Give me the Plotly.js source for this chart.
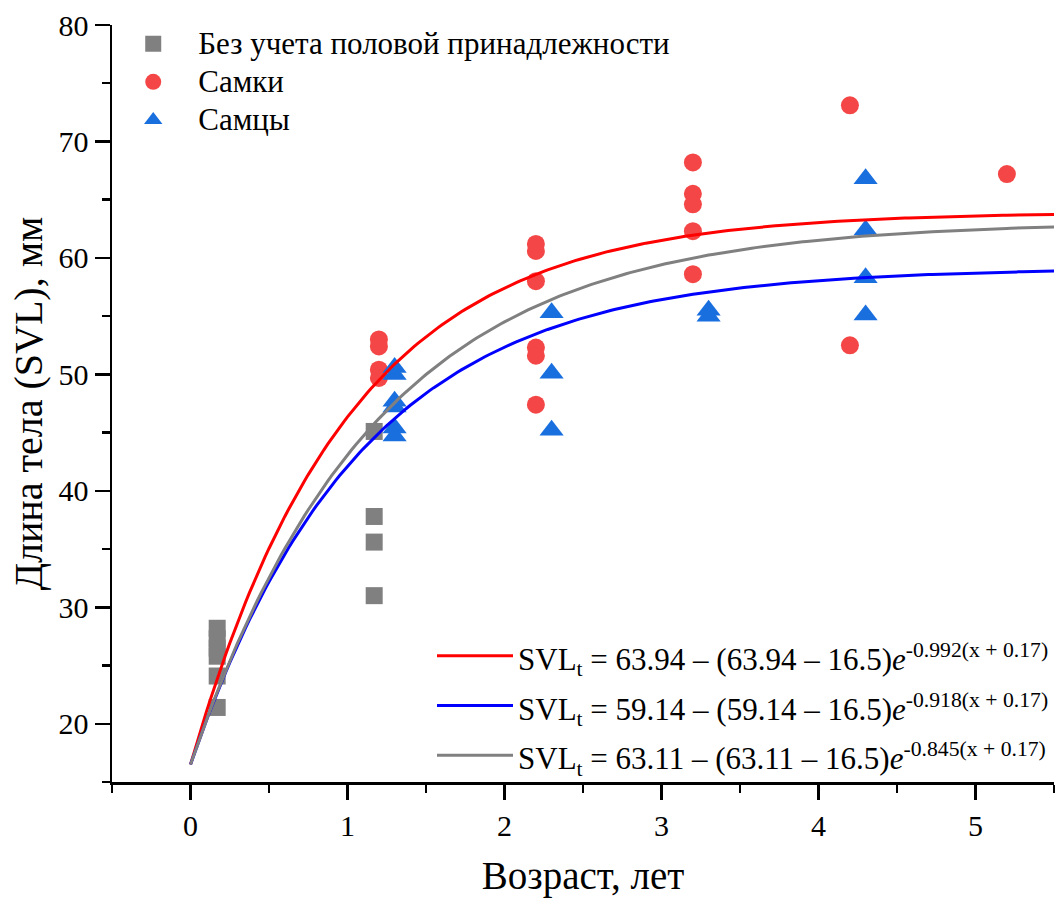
<!DOCTYPE html>
<html>
<head>
<meta charset="utf-8">
<script src="https://cdn.plot.ly/plotly-3.0.1.min.js"></script>
<style>html,body{margin:0;padding:0;background:#fff;}#chart{width:1058px;height:898px;}</style>
</head>
<body>
<div id="chart"></div>
<script>
// ---- Data ----
const seriesNames = ["Без учета половой принадлежности", "Самки", "Самцы"];

const unsexedAge = [0.17, 0.17, 0.17, 0.17, 0.17, 0.17, 1.17, 1.17, 1.17, 1.17];
const unsexedSVL = [28.2, 27.3, 26.5, 25.8, 24.1, 21.4, 45.1, 37.8, 35.6, 31.0];

const femaleAge = [1.2, 1.2, 1.2, 1.2, 2.2, 2.2, 2.2, 2.2, 2.2, 2.2, 3.2, 3.2, 3.2, 3.2, 3.2, 4.2, 4.2, 5.2];
const femaleSVL = [53.0, 52.4, 50.4, 49.7, 61.2, 60.6, 58.0, 52.3, 51.6, 47.4, 68.2, 65.5, 64.6, 62.3, 58.6, 73.1, 52.5, 67.2];

const maleAge = [1.3, 1.3, 1.3, 1.3, 1.3, 1.3, 2.3, 2.3, 2.3, 3.3, 3.3, 4.3, 4.3, 4.3, 4.3];
const maleSVL = [50.6, 50.0, 47.7, 47.2, 45.4, 44.7, 55.3, 50.1, 45.2, 55.5, 55.0, 66.8, 62.4, 58.3, 55.1];

// von Bertalanffy fit parameters shown in the legend (females, males, all)
const fitLinf = [63.94, 59.14, 63.11];
const fitK = [0.992, 0.918, 0.845];
const fitL0 = [16.5, 16.5, 16.5];
const fitLabels = [
  "SVL<sub>t</sub> = 63.94 – (63.94 – 16.5)<i>e</i><sup>-0.992(x + 0.17)</sup>",
  "SVL<sub>t</sub> = 59.14 – (59.14 – 16.5)<i>e</i><sup>-0.918(x + 0.17)</sup>",
  "SVL<sub>t</sub> = 63.11 – (63.11 – 16.5)<i>e</i><sup>-0.845(x + 0.17)</sup>"
];

const xTickVals = [0, 1, 2, 3, 4, 5];
const yTickVals = [20, 30, 40, 50, 60, 70, 80];

// ---- Fit curves evaluated through the model ----
const curveX = [];
for (let i = 0; i <= 220; i++) curveX.push(i * 5.5 / 220);
function fitCurve(j) {
  return curveX.map(x => fitLinf[j] - (fitLinf[j] - fitL0[j]) * Math.exp(-fitK[j] * x));
}

const FONT = "Liberation Serif, Times New Roman, serif";
const lineColors = ["#ff0000", "#0000ff", "#808080"];
const big = (s, px) => "<span style='font-size:" + px + "px'>" + s + "</span>";

const traces = [
  {x: unsexedAge, y: unsexedSVL, mode: "markers", type: "scatter", name: big(seriesNames[0], 31),
   marker: {symbol: "square", size: 17, color: "#808080"}, legend: "legend"},
  {x: femaleAge, y: femaleSVL, mode: "markers", type: "scatter", name: big(seriesNames[1], 31),
   marker: {symbol: "circle", size: 18, color: "#f44646"}, legend: "legend"},
  {x: maleAge, y: maleSVL, mode: "markers", type: "scatter", name: big(seriesNames[2], 31),
   marker: {symbol: "triangle-up", size: 21, color: "#1a6fdf"}, legend: "legend"}
];
for (let j = 0; j < 3; j++) {
  traces.push({x: curveX, y: fitCurve(j), mode: "lines", type: "scatter", name: big(fitLabels[j], 31),
    line: {color: lineColors[j], width: 3}, legend: "legend2"});
}

const layout = {
  width: 1058, height: 898,
  margin: {l: 112, r: 4, t: 25, b: 116},
  paper_bgcolor: "#fff", plot_bgcolor: "#fff",
  font: {family: FONT, color: "#000", size: 30},
  showlegend: true,
  xaxis: {
    range: [-0.5, 5.5], tickvals: xTickVals, ticks: "outside", ticklen: 15, tickwidth: 2.5,
    tickcolor: "#000", showline: true, linecolor: "#000", linewidth: 2.5, showgrid: false, zeroline: false,
    tickfont: {family: FONT, size: 30}, mirror: false,
    minor: {dtick: 0.5, tick0: 0.5, ticks: "outside", ticklen: 8, tickwidth: 2.5, tickcolor: "#000", showgrid: false},
    title: {text: "Возраст, лет", font: {family: FONT, size: 39}, standoff: 27}
  },
  yaxis: {
    range: [15, 80], tickvals: yTickVals, ticks: "outside", ticklen: 15, tickwidth: 2.5,
    tickcolor: "#000", showline: true, linecolor: "#000", linewidth: 2.5, showgrid: false, zeroline: false,
    tickfont: {family: FONT, size: 30},
    minor: {dtick: 5, tick0: 15, ticks: "outside", ticklen: 8, tickwidth: 2.5, tickcolor: "#000", showgrid: false},
    title: {text: "Длина тела (SVL), мм", font: {family: FONT, size: 40}, standoff: 4}
  },
  legend: {
    x: -0.004, y: 1.007, xanchor: "left", yanchor: "top", bgcolor: "rgba(0,0,0,0)",
    font: {family: FONT, size: 27, color: "#000"}, tracegroupgap: 0, itemwidth: 80
  },
  legend2: {
    x: 1.0, y: -0.005, xanchor: "right", yanchor: "bottom", bgcolor: "rgba(0,0,0,0)",
    font: {family: FONT, size: 36, color: "#000"}, itemwidth: 76
  }
};

Plotly.newPlot("chart", traces, layout, {displayModeBar: false, staticPlot: true});
</script>
</body>
</html>
